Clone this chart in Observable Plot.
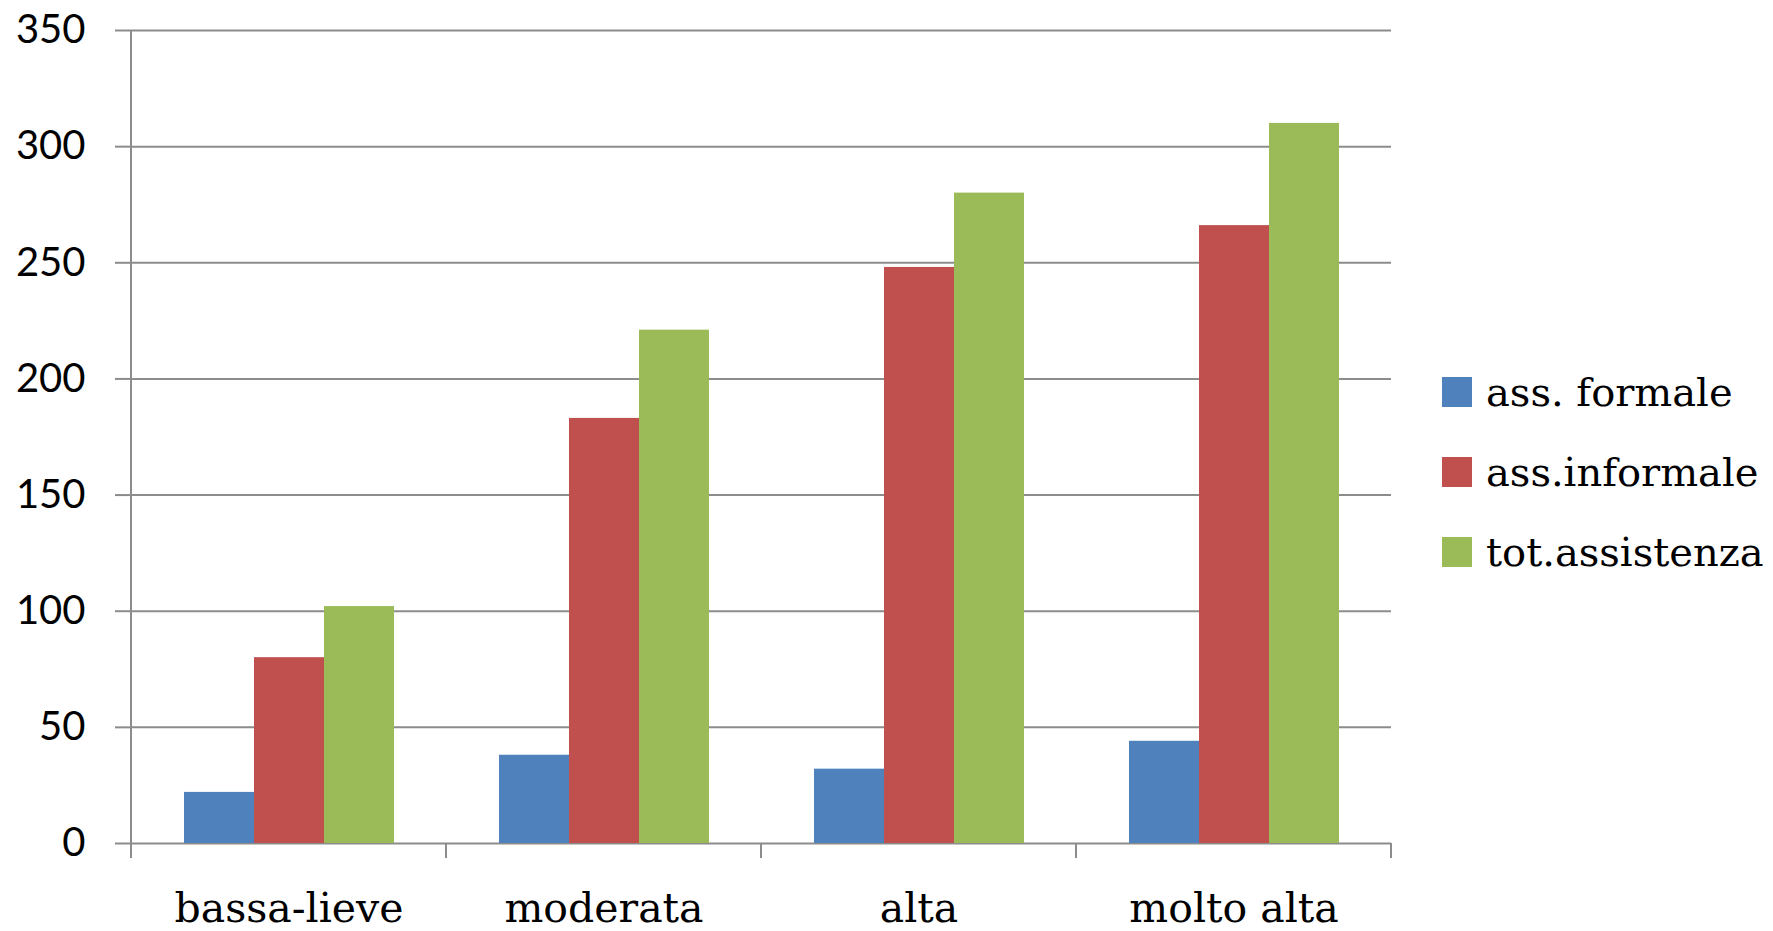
<!DOCTYPE html>
<html>
<head>
<meta charset="utf-8">
<script src="https://cdn.jsdelivr.net/npm/d3@7"></script>
<script src="https://cdn.jsdelivr.net/npm/@observablehq/plot@0.6"></script>
<style>
  html, body { margin: 0; padding: 0; background: #fff; }
  #wrap { position: relative; width: 1773px; height: 931px; }
  #legend { position: absolute; left: 1442px; top: 352px; font-family: "DejaVu Serif", serif; font-size: 40px; color: #000; }
  #legend .row { display: flex; align-items: center; height: 80px; white-space: nowrap; }
  #legend .sw { width: 30px; height: 30px; margin-right: 14px; flex: none; }
</style>
</head>
<body>
<div id="wrap"></div>
<script>
// Livello di bisogno assistenziale e ore di assistenza
const categories = ["bassa-lieve", "moderata", "alta", "molto alta"];
const series = ["ass. formale", "ass.informale", "tot.assistenza"];
const formale = [22, 38, 32, 44];
const informale = [80, 183, 248, 266];
const totale = [102, 221, 280, 310];
const yTicks = [0, 50, 100, 150, 200, 250, 300, 350];
const colors = ["#4F81BD", "#C0504D", "#9BBB59"];

const values = [formale, informale, totale];
const data = categories.flatMap((cat, i) =>
  series.map((serie, j) => ({cat, serie, value: values[j][i]}))
);

const gridColor = "#8c8c8c";

const chart = Plot.plot({
  width: 1773,
  height: 931,
  marginLeft: 131,
  marginRight: 382,
  marginTop: 30,
  marginBottom: 88,
  style: {background: "white", overflow: "visible"},
  fx: {domain: categories, padding: 0, label: null},
  x: {domain: series, paddingInner: 0, paddingOuter: 0.75, axis: null},
  y: {domain: [0, 350]},
  color: {domain: series, range: colors},
  marks: [
    Plot.ruleY(yTicks, {stroke: gridColor, strokeWidth: 2}),
    Plot.barY(data, {fx: "cat", x: "serie", y: "value", fill: "serie"}),
    Plot.axisY({
      ticks: yTicks,
      tickSize: 16,
      tickPadding: 30,
      color: "black",
      stroke: gridColor,
      strokeWidth: 2,
      fontSize: 40,
      fontFamily: "Lato, sans-serif",
      label: null
    }),
    Plot.axisFx({
      anchor: "bottom",
      tickSize: 0,
      tickPadding: 49,
      color: "black",
      fontSize: 41,
      fontFamily: "DejaVu Serif, serif",
      label: null
    })
  ]
});

// Vertical axis line and category boundary ticks, placed from the plot's scales
const fx = chart.scale("fx");
const y = chart.scale("y");
const edges = categories.map(c => fx.apply(c));
edges.push(fx.apply(categories[categories.length - 1]) + fx.bandwidth);
const y0 = y.apply(0);
d3.select(chart).append("g")
  .attr("stroke", gridColor)
  .attr("stroke-width", 2)
  .selectAll("line")
  .data(edges)
  .join("line")
  .attr("x1", d => d)
  .attr("x2", d => d)
  .attr("y1", (d, i) => i === 0 ? y.apply(350) : y0)
  .attr("y2", y0 + 15);

const wrap = document.getElementById("wrap");
wrap.appendChild(chart);

// Legend
const legend = document.createElement("div");
legend.id = "legend";
series.forEach((s, i) => {
  const row = document.createElement("div");
  row.className = "row";
  const sw = document.createElement("span");
  sw.className = "sw";
  sw.style.background = colors[i];
  const label = document.createElement("span");
  label.textContent = s;
  row.appendChild(sw);
  row.appendChild(label);
  legend.appendChild(row);
});
wrap.appendChild(legend);
</script>
</body>
</html>
